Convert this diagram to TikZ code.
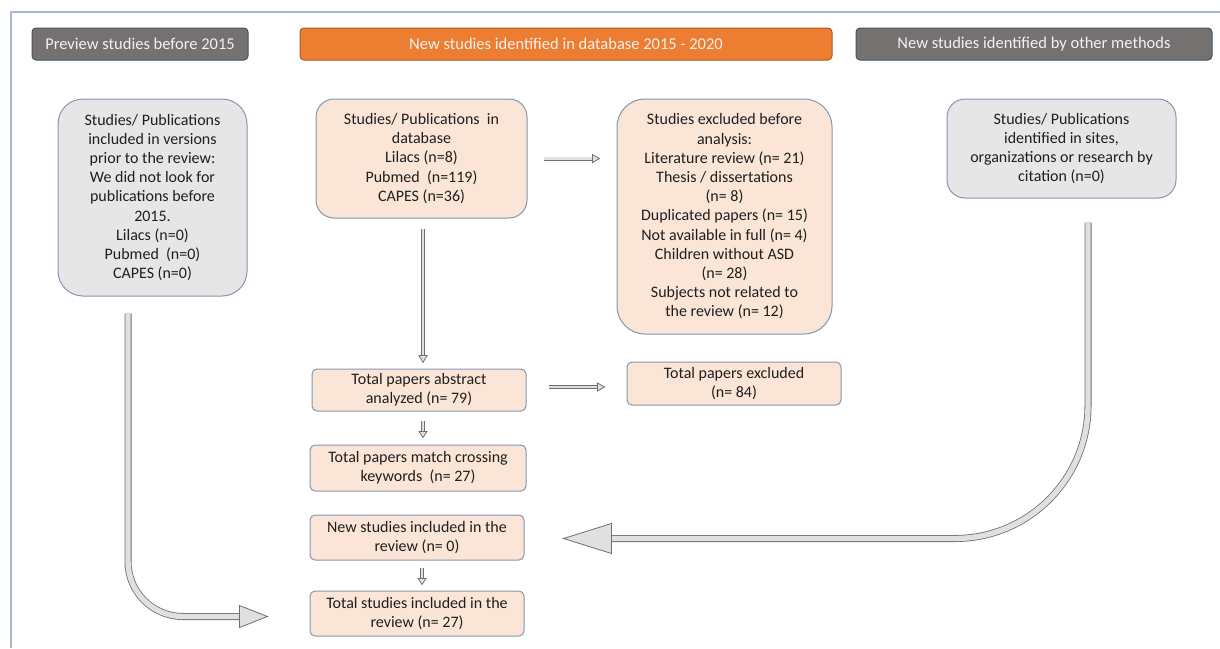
\documentclass[tikz,border=0pt]{standalone}
\usepackage{fontspec}
\setmainfont{Carlito}
\usetikzlibrary{calc}
\definecolor{hdrgray}{HTML}{767171}
\definecolor{hdrborder}{HTML}{44546A}
\definecolor{hdrorange}{HTML}{ED7D31}
\definecolor{orangeborder}{HTML}{AE5A21}
\definecolor{peach}{HTML}{FBE5D6}
\definecolor{lgray}{HTML}{E7E6E6}
\definecolor{bordercol}{HTML}{8497B0}
\definecolor{framecol}{HTML}{A9B7D0}
\definecolor{arrowline}{HTML}{6F6F6F}
\definecolor{arrowfill}{HTML}{E0E0E0}
\definecolor{txt}{HTML}{1F1F1F}
\definecolor{hdrtxt}{HTML}{F2F2F2}
\newcommand{\bodyfont}{\fontsize{16}{19.2}\selectfont}
\newcommand{\hdrfont}{\fontsize{16.5}{19}\selectfont}
% arrow heads: #1 tip coordinate, #2 half width, #3 length
\newcommand{\headR}[3]{\filldraw[ahead] (#1) -- ++(-#3,#2) -- ++(0,-2*#2) -- cycle;}
\newcommand{\headL}[3]{\filldraw[ahead] (#1) -- ++(#3,#2) -- ++(0,-2*#2) -- cycle;}
\newcommand{\headD}[3]{\filldraw[ahead] (#1) -- ++(#2,-#3) -- ++(-2*#2,0) -- cycle;}
\begin{document}
\begin{tikzpicture}[x=1pt,y=-1pt,
  hdr/.style={rounded corners=4pt, line width=1pt, text=hdrtxt, font=\hdrfont, inner sep=0pt, minimum height=32pt},
  box/.style={draw=bordercol, line width=1pt, align=center, inner sep=0pt, font=\bodyfont, text=txt},
  pbox/.style={box, fill=peach},
  gbox/.style={box, fill=lgray},
  shaftsmall/.style={draw=arrowline, line width=0.8pt, double=arrowfill, double distance=2.4pt},
  shaftbig/.style={draw=arrowline, line width=0.8pt, double=arrowfill, double distance=5.4pt},
  ahead/.style={draw=arrowline, fill=arrowfill, line width=0.8pt, line join=miter}
]
\useasboundingbox (0,0) rectangle (1220,648);
\fill[white] (0,0) rectangle (1220,648);
\draw[framecol, line width=1.2pt] (11,648) -- (11,12) -- (1220,12);

% headers
\node[hdr, fill=hdrgray, draw=hdrborder, minimum width=216pt] (h1) at (140,44) {Preview studies before 2015};
\node[hdr, fill=hdrorange, draw=orangeborder, minimum width=532pt] (h2) at (566,44) {New studies identified in database 2015 - 2020};
\node[hdr, fill=hdrgray, draw=hdrborder, minimum width=356pt] (h3) at (1034,44) {New studies identified by other methods};

% boxes
\node[gbox, rounded corners=25pt, minimum width=189pt, minimum height=197pt] (lbox) at (152.5,197.5)
 {Studies/ Publications\\included in versions\\prior to the review:\\We did not look for\\publications before\\2015.\\Lilacs (n=0)\\Pubmed\ \ (n=0)\\CAPES (n=0)};
\node[pbox, rounded corners=18pt, minimum width=211pt, minimum height=119pt] (db) at (421.5,158.5)
 {Studies/ Publications\ \ in\\database\\Lilacs (n=8)\\Pubmed\ \ (n=119)\\CAPES (n=36)};
\node[pbox, rounded corners=28pt, minimum width=215pt, minimum height=235pt] (excl) at (724.5,216.5)
 {Studies excluded before\\analysis:\\Literature review (n= 21)\\Thesis / dissertations\\(n= 8)\\Duplicated papers (n= 15)\\Not available in full (n= 4)\\Children without ASD\\(n= 28)\\Subjects not related to\\the review (n= 12)};
\node[gbox, rounded corners=18pt, minimum width=229pt, minimum height=99pt] (other) at (1061.5,148.5)
 {Studies/ Publications\\identified in sites,\\organizations or research by\\citation (n=0)};
\node[pbox, rounded corners=5pt, minimum width=214pt, minimum height=42pt] (abs) at (419,390)
 {Total papers abstract\\analyzed (n= 79)};
\node[pbox, rounded corners=5pt, minimum width=214pt, minimum height=43pt] (tot) at (734,383.5)
 {Total papers excluded\\(n= 84)};
\node[pbox, rounded corners=5pt, minimum width=216pt, minimum height=46pt] (cross) at (418,468)
 {Total papers match crossing\\keywords\ \ (n= 27)};
\node[pbox, rounded corners=5pt, minimum width=214pt, minimum height=45pt] (new) at (417,537.5)
 {New studies included in the\\review (n= 0)};
\node[pbox, rounded corners=5pt, minimum width=214pt, minimum height=45pt] (total) at (417,613.5)
 {Total studies included in the\\review (n= 27)};

% db -> excl
\coordinate (a1s) at ($(db.east)+(16,0)$);
\coordinate (a1e) at ($(excl.west |- db.east)+(-17,0)$);
\draw[shaftsmall] (a1s) -- ($(a1e)+(-5,0)$);
\headR{a1e}{4}{7}

% db -> abs
\coordinate (a2s) at ($(db.south)+(1.5,10)$);
\coordinate (a2e) at ($(a2s |- abs.north)+(0,-6)$);
\draw[shaftsmall] (a2s) -- ($(a2e)+(0,-5)$);
\headD{a2e}{4}{7}

% abs -> tot
\coordinate (a3s) at ($(abs.east)+(22,-3)$);
\coordinate (a3e) at ($(a3s -| tot.west)+(-22,0)$);
\draw[shaftsmall] (a3s) -- ($(a3e)+(-5,0)$);
\headR{a3e}{4}{7}

% abs -> cross
\coordinate (a4s) at ($(abs.south)+(4,9)$);
\coordinate (a4e) at ($(a4s |- cross.north)+(0,-7)$);
\draw[shaftsmall] (a4s) -- ($(a4e)+(0,-4)$);
\headD{a4e}{4}{6}

% new -> total
\coordinate (a5s) at ($(new.south)+(5,7)$);
\coordinate (a5e) at ($(a5s |- total.north)+(0,-6)$);
\draw[shaftsmall] (a5s) -- ($(a5e)+(0,-4)$);
\headD{a5e}{4}{6}

% left curved arrow
\coordinate (ls) at ($(lbox.south)+(-24.5,17)$);
\coordinate (le) at ($(total.west)+(-42,3)$);
\draw[shaftbig, rounded corners=55pt] (ls) -- (ls |- le) -- ($(le)+(-27,0)$);
\headR{le}{11}{28}

% right curved arrow
\coordinate (rs) at ($(other.south)+(26.5,24)$);
\coordinate (re) at ($(new.east)+(39,1)$);
\draw[shaftbig, rounded corners=133pt] (rs) -- (rs |- re) -- ($(re)+(47,0)$);
\headL{re}{15}{48}
\end{tikzpicture}
\end{document}
